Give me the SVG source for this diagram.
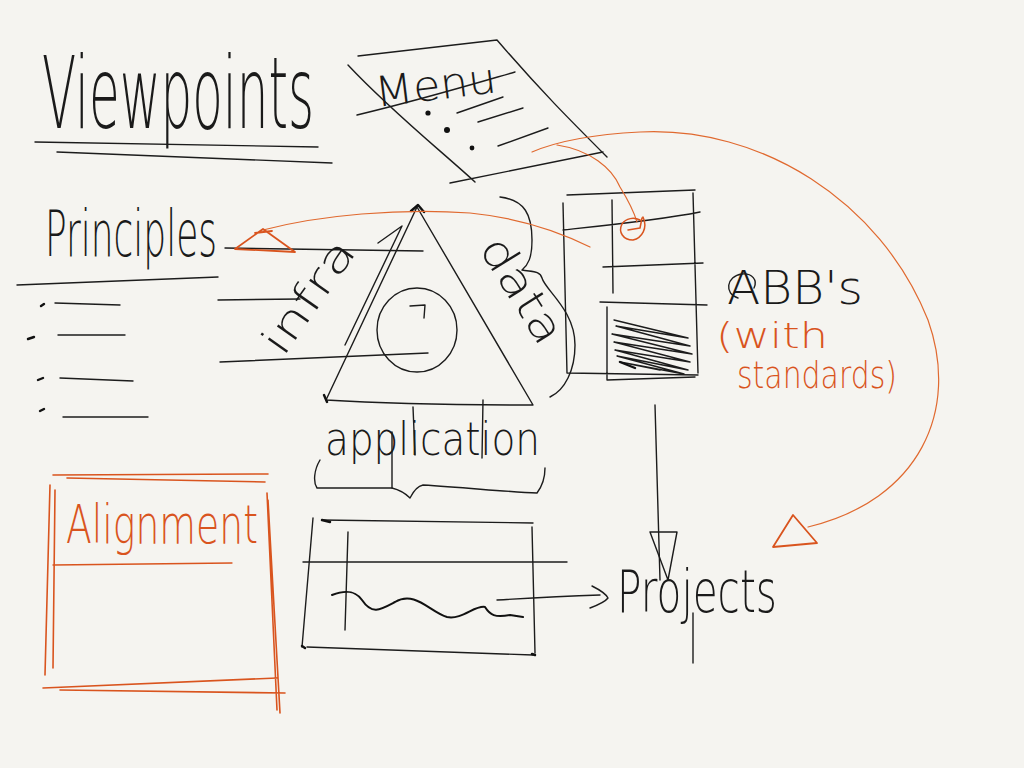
<svg xmlns="http://www.w3.org/2000/svg" width="1024" height="768" viewBox="0 0 1024 768">
<style>
.k{fill:none;stroke:#1c1c1c;stroke-width:1.4;stroke-linecap:round;stroke-linejoin:round}
.kb{fill:none;stroke:#111;stroke-width:2.4;stroke-linecap:round;stroke-linejoin:round}
.o{fill:none;stroke:#e0692f;stroke-width:1.2;stroke-linecap:round;stroke-linejoin:round}
.ob{fill:none;stroke:#d9541e;stroke-width:2;stroke-linecap:round;stroke-linejoin:round}
.t{font-family:"DejaVu Sans ExtraLight","DejaVu Sans",sans-serif;font-weight:200;fill:#1a1a1a}
.to{font-family:"DejaVu Sans ExtraLight","DejaVu Sans",sans-serif;font-weight:200;fill:#d9541e}
</style>
<rect width="1024" height="768" fill="#f5f4f0"/>

<g id="viewpoints">
<text class="t" x="42" y="128" font-size="100" textLength="272" lengthAdjust="spacingAndGlyphs">Viewpoints</text>
<path class="k" d="M35,142 L318,147 M57,152 L332,163"/>
</g>

<g id="menu">
<path class="k" d="M358,56 L497,40 M348,65 C390,110 440,150 475,182 M497,40 C540,90 570,120 607,157 M357,115 C420,100 470,85 515,72 M450,183 L603,152"/>
<text class="t" x="374" y="100" font-size="42" textLength="122" lengthAdjust="spacingAndGlyphs" transform="rotate(-7 432 82)">Menu</text>
<circle cx="428" cy="113" r="2.6" fill="#111"/>
<circle cx="447" cy="130" r="3" fill="#111"/>
<circle cx="472" cy="148" r="2.4" fill="#111"/>
<path class="k" d="M457,113 L503,97 M478,122 L523,108 M498,146 L548,128"/>
</g>

<g id="principles">
<text class="t" x="45" y="256" font-size="64" textLength="172" lengthAdjust="spacingAndGlyphs">Principles</text>
<path class="k" d="M17,285 L218,277"/>
<path class="k" d="M55,303 L120,305 M58,335 L125,335 M60,378 L133,381 M63,417 L148,417"/>
<path class="kb" d="M41,306 L44,304 M28,339 L34,337 M38,380 L43,378 M40,411 L44,409"/>
</g>

<g id="viewpoint-triangle">
<path class="k" d="M417,207 L326,400 M417,207 L533,405 M326,400 C390,404 470,405 533,405"/>
<path class="kb" d="M411,211 L418,205 L424,212 M324,395 L327,402"/>
<ellipse class="k" cx="417" cy="330" rx="40" ry="42"/>
<path class="k" d="M410,306 L425,305 L424,318"/>
<path class="k" d="M378,243 L402,226 L345,345"/>
<path class="k" d="M218,300 L300,299 M220,362 C300,358 380,355 428,353 M225,248 C300,249 370,250 423,251"/>
<text class="t" x="0" y="0" font-size="42" textLength="130" lengthAdjust="spacingAndGlyphs" transform="translate(283,358) rotate(-55)">infra</text>
<text class="t" x="0" y="0" font-size="44" textLength="118" lengthAdjust="spacingAndGlyphs" transform="translate(478,248) rotate(58)">data</text>
<path class="k" d="M500,197 C525,200 532,215 532,240 C532,258 528,265 522,270 C530,272 540,270 542,278 C545,290 575,310 575,345 C575,370 565,390 550,397"/>
</g>

<g id="abb-stack">
<path class="k" d="M567,195 L695,190 M563,203 L567,373 M567,373 L698,375 M693,193 L698,373 M612,200 L613,293 M563,230 C610,225 660,220 700,212 M603,267 L703,263 M600,302 L707,305 M607,307 L607,380 M607,380 L695,377"/>
<path class="k" d="M614,320 L688,338 L616,326 L690,346 L612,334 L692,354 L614,342 L690,362 L615,350 L688,370 L617,356 L684,374 L620,362 L660,370"/>
<path class="kb" d="M620,362 L635,368"/>
</g>

<g id="abb-label">
<text class="t" x="727" y="304" font-size="46" textLength="136" lengthAdjust="spacingAndGlyphs">ABB's</text>
<path class="k" d="M738,298 C724,294 726,276 742,274 C752,273 758,280 754,288"/>
<text class="to" x="716" y="348" font-size="36" textLength="112" lengthAdjust="spacingAndGlyphs">(with</text>
<text class="to" x="737" y="388" font-size="38" textLength="160" lengthAdjust="spacingAndGlyphs">standards)</text>
</g>

<g id="application">
<text class="t" x="325" y="455" font-size="46" textLength="215" lengthAdjust="spacingAndGlyphs">application</text>
<path class="k" d="M413,407 L415,455 M483,400 L482,458 M392,432 L392,488"/>
<path class="k" d="M320,460 C314,470 313,482 317,488 L392,488 C400,490 405,493 410,498 C414,490 418,486 423,485 C470,488 510,492 537,493 C543,485 545,475 545,468"/>
</g>

<g id="app-box">
<path class="k" d="M322,520 L533,523 M313,518 L302,647 M307,647 L533,655 M532,527 L535,653 M303,562 L567,562 M348,532 L345,630"/>
<path class="kb" d="M322,520 L330,522 M302,646 L305,648 M532,654 L535,655"/>
<path class="kb" d="M332,595 C345,590 355,590 362,600 C372,615 380,610 395,602 C415,590 430,612 447,617 C462,620 475,605 485,607 C490,615 495,618 510,615 L523,617" style="stroke-width:2"/>
</g>

<g id="projects">
<text class="t" x="617" y="612" font-size="58" textLength="160" lengthAdjust="spacingAndGlyphs">Projects</text>
<path class="k" d="M693,613 L693,663"/>
</g>

<g id="alignment">
<path class="ob" d="M53,475 L268,474 M67,478 L265,482 M50,485 L45,675 M55,490 L53,668 M267,493 L277,710 M268,500 L280,713 M43,688 L277,678 M60,690 L285,693" style="stroke-width:1.6"/>
<path class="ob" d="M53,565 L232,563" style="stroke-width:1.3"/>
<text class="to" x="66" y="543" font-size="54" textLength="192" lengthAdjust="spacingAndGlyphs">Alignment</text>
</g>

<g id="connectors">
<path class="o" d="M590,247 C560,232 520,218 470,213 C400,208 320,215 263,230"/>
<path class="ob" d="M263,229 L235,249 L295,252 Z M255,233 L272,231" style="stroke-width:1.8"/>
<path class="o" d="M532,152 C560,140 600,134 640,132 C760,126 880,200 928,320 C960,410 920,500 808,527"/>
<path class="ob" d="M773,547 L793,515 L817,543 Z" style="stroke-width:1.8"/>
<path class="o" d="M557,145 C590,150 612,168 620,187 C628,200 634,212 637,222"/>
<path class="ob" d="M643,217 C648,228 642,238 633,240 C623,240 618,232 622,224 C626,218 634,217 640,220 M628,230 L640,228 L642,218" style="stroke-width:1.5"/>
<path class="k" d="M655,405 L660,580"/>
<path class="k" d="M650,532 L677,532 L668,580 Z"/>
<path class="k" d="M497,600 C530,598 570,596 600,595"/>
<path class="k" d="M592,586 C600,590 606,594 608,598 C605,602 598,605 590,608"/>
</g>
</svg>
